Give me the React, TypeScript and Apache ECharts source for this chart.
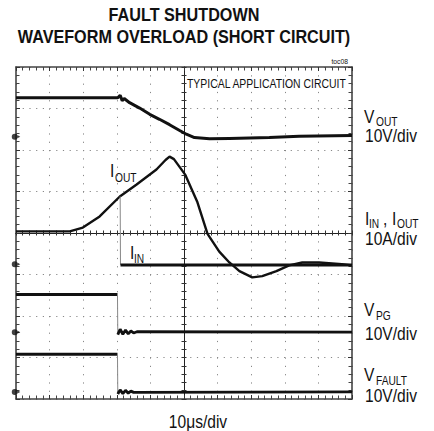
import React, { useEffect, useRef } from "react";
import * as echarts from "echarts";

// Scope screen: 10 horizontal divisions, 8 vertical divisions (values in divisions)
const xDivs = 10;
const yDivs = 8;

const titleLines = ["FAULT SHUTDOWN", "WAVEFORM OVERLOAD (SHORT CIRCUIT)"];
const noteText = "TYPICAL APPLICATION CIRCUIT";
const figureId = "toc08";
const timeScale = "10μs/div";
const channelScales = ["10V/div", "10A/div", "10V/div", "10V/div"];

// ground reference markers (division units)
const zeroMarkers: number[] = [6.32, 3.25, 1.61, 0.17];

const voutTrace: [number, number][] = [
  [0, 7.26], [3.03, 7.26], [3.1, 7.32], [3.16, 7.19], [3.22, 7.24], [3.38, 7.14],
  [3.68, 7.01], [3.98, 6.86], [4.27, 6.74], [4.57, 6.61], [4.87, 6.47], [5.07, 6.38],
  [5.31, 6.3], [5.76, 6.27], [6.35, 6.28], [7.54, 6.3], [8.43, 6.33], [10, 6.35],
];

const ioutTrace: [number, number][] = [
  [0, 4.04], [1.6, 4.04], [1.99, 4.13], [2.49, 4.4], [3.09, 4.88], [3.59, 5.17],
  [4.18, 5.53], [4.45, 5.76], [4.57, 5.84], [4.7, 5.78], [5.04, 5.4], [5.4, 4.74],
  [5.7, 3.98], [6.05, 3.55], [6.35, 3.29], [6.65, 3.08], [7.03, 2.93], [7.33, 2.96],
  [7.75, 3.08], [8.13, 3.22], [8.52, 3.29], [9.02, 3.29], [9.7, 3.25], [10, 3.22],
];

// I_IN follows I_OUT until the fault, then collapses
const iinTrace: [number, number][] = [
  [3.1, 4.88], [3.11, 3.23], [10, 3.23],
];

const vpgBefore: [number, number][] = [[0, 2.52], [3.02, 2.52]];
const vpgAfter: [number, number][] = [
  [3.03, 1.55], [3.1, 1.68], [3.18, 1.56], [3.26, 1.66], [3.34, 1.57], [3.42, 1.64],
  [3.5, 1.59], [3.6, 1.62], [10, 1.61],
];

const vfaultBefore: [number, number][] = [[0, 1.08], [3.02, 1.08]];
const vfaultAfter: [number, number][] = [
  [3.03, 0.12], [3.1, 0.22], [3.18, 0.13], [3.26, 0.21], [3.34, 0.14], [3.42, 0.19],
  [3.5, 0.16], [10, 0.17],
];

const FONT = "'Liberation Sans', Arial, sans-serif";

function txt(text: string, x: number, y: number, size: number, opts: any = {}) {
  return {
    type: "text",
    x,
    y,
    scaleX: opts.scaleX ?? 0.82,
    silent: true,
    z: 100,
    style: {
      text,
      fontSize: size,
      fontFamily: FONT,
      fontWeight: opts.bold ? "bold" : "normal",
      fill: "#111",
      align: opts.align ?? "left",
      verticalAlign: "middle",
    },
  };
}

const GRID = { left: 16, top: 67, width: 336, height: 332 };

function borderAxis(position: string, isX: boolean, extra: any = {}) {
  return {
    type: "value",
    gridIndex: 0,
    min: 0,
    max: isX ? xDivs : yDivs,
    interval: 1,
    position,
    axisLine: { show: true, onZero: false, lineStyle: { color: "#444", width: 1.6 } },
    axisTick: { show: true, inside: true, length: 4, lineStyle: { color: "#333", width: 1 } },
    minorTick: { show: true, splitNumber: 5, length: 3.5, lineStyle: { color: "#444", width: 1 } },
    axisLabel: { show: false },
    splitLine: { show: false },
    ...extra,
  };
}

function centerAxis(position: string, isX: boolean, offset: number, inside: boolean) {
  return {
    type: "value",
    gridIndex: 0,
    min: 0,
    max: isX ? xDivs : yDivs,
    interval: 1,
    position,
    offset,
    axisLine: { show: true, onZero: false, lineStyle: { color: "#222", width: 1 } },
    axisTick: { show: true, inside, length: 2.5, lineStyle: { color: "#333", width: 1 } },
    minorTick: { show: true, splitNumber: 5, length: 2.5, lineStyle: { color: "#333", width: 1 } },
    axisLabel: { show: false },
    splitLine: { show: false },
  };
}

function lineSeries(data: [number, number][], width: number, color = "#111") {
  return {
    type: "line",
    xAxisIndex: 0,
    yAxisIndex: 0,
    data,
    showSymbol: false,
    silent: true,
    animation: false,
    z: 5,
    lineStyle: { color, width },
  };
}

const markerPath = "path://M3,0A3,3,0,1,0,3,6A3,3,0,1,0,3,0ZM6,1.6L8.5,3L6,4.4Z";

const labelX = 364;
const subX = 376;

const graphics = [
  txt(titleLines[0], 184, 15, 19, { bold: true, align: "center", scaleX: 0.853 }),
  txt(titleLines[1], 184, 37, 19, { bold: true, align: "center", scaleX: 0.853 }),
  txt(figureId, 348, 61, 8, { align: "right", scaleX: 0.85 }),
  txt(noteText, 187, 84, 12, { scaleX: 0.87 }),
  // VOUT
  txt("V", labelX, 116, 19),
  txt("OUT", subX, 122, 12, { scaleX: 0.85 }),
  txt(channelScales[0], labelX + 1, 135, 19),
  // IIN, IOUT
  txt("I", labelX + 1, 218, 19),
  txt("IN", 369, 224, 12, { scaleX: 0.85 }),
  txt(",", 383, 218, 19),
  txt("I", 392, 218, 19),
  txt("OUT", 397, 224, 12, { scaleX: 0.85 }),
  txt(channelScales[1], labelX + 1, 238, 19),
  // VPG
  txt("V", labelX, 309, 19),
  txt("PG", subX, 316, 12, { scaleX: 0.85 }),
  txt(channelScales[2], labelX + 1, 333, 19),
  // VFAULT
  txt("V", labelX, 374, 19),
  txt("FAULT", subX, 381, 12, { scaleX: 0.85 }),
  txt(channelScales[3], labelX + 1, 395, 19),
  // time base
  txt(timeScale, 198, 421, 19, { align: "center" }),
  // in-plot trace labels
  txt("I", 110, 170, 19),
  txt("OUT", 115, 178, 12, { scaleX: 0.85 }),
  txt("I", 130, 252, 19),
  txt("IN", 134, 259, 12, { scaleX: 0.85 }),
];

const option: any = {
  animation: false,
  backgroundColor: "#fff",
  grid: { ...GRID, containLabel: false },
  xAxis: [
    borderAxis("bottom", true, {
      splitLine: { show: true, lineStyle: { color: "#888", width: 1, type: [1.2, 7.1] } },
    }),
    borderAxis("top", true),
    centerAxis("bottom", true, -166, true),
    centerAxis("bottom", true, -166, false),
  ],
  yAxis: [
    borderAxis("left", false, {
      splitLine: { show: true, lineStyle: { color: "#888", width: 1, type: [1.2, 5.5] } },
    }),
    borderAxis("right", false),
    centerAxis("left", false, -168, true),
    centerAxis("left", false, -168, false),
  ],
  graphic: graphics,
  series: [
    lineSeries(voutTrace, 3),
    lineSeries(ioutTrace, 2.4),
    lineSeries([iinTrace[0], iinTrace[1]], 1, "#888"),
    lineSeries(iinTrace.slice(1), 3),
    lineSeries(vpgBefore, 3),
    lineSeries([vpgBefore[vpgBefore.length - 1], vpgAfter[0]], 1, "#888"),
    lineSeries(vpgAfter, 2.8),
    lineSeries(vfaultBefore, 3),
    lineSeries([vfaultBefore[vfaultBefore.length - 1], vfaultAfter[0]], 1, "#888"),
    lineSeries(vfaultAfter, 2.8),
    {
      type: "scatter",
      xAxisIndex: 0,
      yAxisIndex: 0,
      data: zeroMarkers.map((v) => [0, v]),
      symbol: markerPath,
      symbolSize: [8.5, 6],
      clip: false,
      silent: true,
      z: 10,
      itemStyle: { color: "#111" },
    },
  ],
};

export default function App() {
  const ref = useRef<HTMLDivElement>(null);
  useEffect(() => {
    if (!ref.current) return;
    const chart = echarts.init(ref.current, null, { renderer: "svg" });
    chart.setOption(option);
    return () => chart.dispose();
  }, []);
  return (
    <div
      ref={ref}
      style={{ position: "fixed", left: 0, top: 0, width: 434, height: 431, background: "#fff" }}
    />
  );
}
